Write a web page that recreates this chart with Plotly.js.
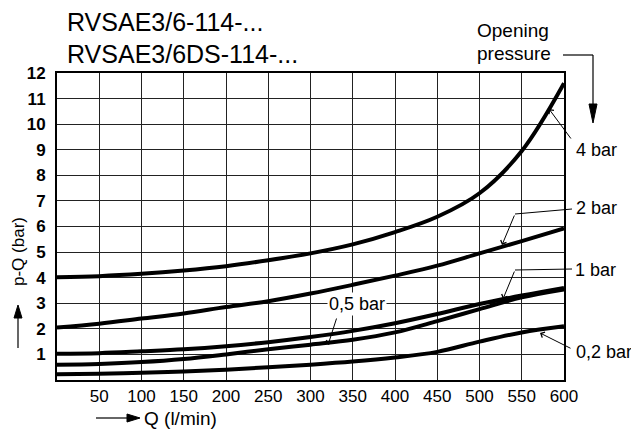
<!DOCTYPE html>
<html>
<head>
<meta charset="utf-8">
<script src="https://cdn.plot.ly/plotly-3.0.1.min.js"></script>
<style>html,body{margin:0;padding:0;background:#fff;}#chart{width:631px;height:435px;}</style>
</head>
<body>
<div id="chart"></div>
<script>
// ---- data ----
var flowQ = [0, 50, 100, 150, 200, 250, 300, 350, 400, 450, 500, 550, 600];
var p4bar  = [4.02, 4.06, 4.15, 4.28, 4.45, 4.68, 4.95, 5.30, 5.78, 6.38, 7.30, 8.95, 11.6];
var p2bar  = [2.05, 2.20, 2.40, 2.60, 2.85, 3.08, 3.38, 3.72, 4.08, 4.47, 4.95, 5.43, 5.93];
var p1bar  = [1.03, 1.05, 1.12, 1.20, 1.32, 1.48, 1.68, 1.92, 2.22, 2.58, 2.97, 3.30, 3.60];
var p05bar = [0.60, 0.63, 0.70, 0.82, 1.00, 1.20, 1.38, 1.57, 1.86, 2.30, 2.77, 3.23, 3.54];
var p02bar = [0.22, 0.24, 0.28, 0.33, 0.40, 0.50, 0.60, 0.72, 0.88, 1.10, 1.50, 1.86, 2.10];
var seriesNames = ['4 bar', '2 bar', '1 bar', '0,5 bar', '0,2 bar'];
var xTickVals = [50, 100, 150, 200, 250, 300, 350, 400, 450, 500, 550, 600];
var yTickVals = [1, 2, 3, 4, 5, 6, 7, 8, 9, 10, 11, 12];

// ---- layout helpers (pixel -> paper) ----
var L = 57, R = 564, T = 73, B = 380;
function px(x) { return (x - L) / (R - L); }
function py(y) { return (B - y) / (B - T); }
function P(x, y) { return px(x) + ',' + py(y); }

var FONT = 'Liberation Sans, Arial, sans-serif';
var series = [p4bar, p2bar, p1bar, p05bar, p02bar];
var traces = series.map(function (s, i) {
  return {
    x: flowQ, y: s, type: 'scatter', mode: 'lines', name: seriesNames[i],
    line: {color: '#000', width: 4, shape: 'spline', smoothing: 1},
    hoverinfo: 'skip'
  };
});

function txt(text, x, y, size, xanchor, extra) {
  var a = {text: text, xref: 'paper', yref: 'paper', x: px(x), y: py(y),
    xanchor: xanchor || 'left', yanchor: 'middle', showarrow: false,
    font: {family: FONT, size: size, color: '#000'}};
  if (extra) for (var k in extra) a[k] = extra[k];
  return a;
}
function arrow(tipX, tipY, tailX, tailY) {
  return {text: '', xref: 'paper', yref: 'paper', x: px(tipX), y: py(tipY),
    ax: tailX - tipX, ay: tailY - tipY, showarrow: true,
    arrowhead: 4, arrowsize: 1.2, arrowwidth: 1, arrowcolor: '#000'};
}
function seg(x0, y0, x1, y1, w) {
  return {type: 'line', xref: 'paper', yref: 'paper', x0: px(x0), y0: py(y0), x1: px(x1), y1: py(y1),
    line: {color: '#000', width: w || 1}};
}
function tri(a, b, c) {
  return {type: 'path', xref: 'paper', yref: 'paper',
    path: 'M' + P(a[0], a[1]) + 'L' + P(b[0], b[1]) + 'L' + P(c[0], c[1]) + 'Z',
    fillcolor: '#000', line: {color: '#000', width: 1}};
}

var annotations = [
  txt('RVSAE3/6-114-...', 65, 22, 25),
  txt('RVSAE3/6DS-114-...', 65, 54, 25),
  txt('Opening', 475, 31, 19),
  txt('pressure', 475, 54, 19),
  txt('p-Q (bar)', 18, 252, 17, 'center', {textangle: -90}),
  txt('Q (l/min)', 142, 418, 19),
  txt('4 bar', 574, 150, 18),
  txt('2 bar', 574, 208, 18),
  txt('1 bar', 573, 270, 18),
  txt('0,5 bar', 357, 304, 18, 'center', {bgcolor: '#fff', borderpad: 1}),
  txt('0,2 bar', 574, 352, 18),
  arrow(549, 109, 572, 140),
  arrow(502, 245, 515, 214),
  arrow(503, 299, 515, 270),
  arrow(328, 345, 337, 317),
  arrow(540, 333, 572, 349)
];

var shapes = [
  // opening pressure arrow
  seg(563, 55, 593, 55, 1.2), seg(593, 55, 593, 106, 1.2),
  tri([589, 104], [597, 104], [593, 123]),
  // y axis title arrow
  seg(18, 348, 18, 316, 1.2), tri([14, 318], [22, 318], [18, 305]),
  // x axis title arrow
  seg(96, 418, 128, 418, 1.2), tri([127, 414], [127, 422], [140, 418]),
  // label leaders
  seg(572, 209, 515, 214, 1), seg(572, 269, 515, 270, 1)
];

var layout = {
  width: 631, height: 435,
  margin: {l: L, r: 631 - R, t: T, b: 435 - B, pad: 0},
  paper_bgcolor: '#fff', plot_bgcolor: '#fff',
  showlegend: false,
  font: {family: FONT, color: '#000'},
  xaxis: {range: [0, 600], tickvals: xTickVals, ticktext: xTickVals.map(String),
    showgrid: true, gridcolor: '#222', gridwidth: 1, zeroline: false,
    showline: true, mirror: true, linecolor: '#000', linewidth: 2, ticks: '',
    ticklabelstandoff: 0,
    tickfont: {family: FONT, size: 17, color: '#000'}, fixedrange: true},
  yaxis: {range: [0, 12], tickvals: yTickVals, ticktext: yTickVals.map(function (v) { return '<b>' + v + '</b>'; }),
    showgrid: true, gridcolor: '#222', gridwidth: 1, zeroline: false,
    showline: true, mirror: true, linecolor: '#000', linewidth: 2, ticks: '',
    ticklabelstandoff: 6,
    tickfont: {family: FONT, size: 17, color: '#000'}, fixedrange: true},
  annotations: annotations,
  shapes: shapes
};

Plotly.newPlot('chart', traces, layout, {displayModeBar: false, staticPlot: true});
</script>
</body>
</html>
